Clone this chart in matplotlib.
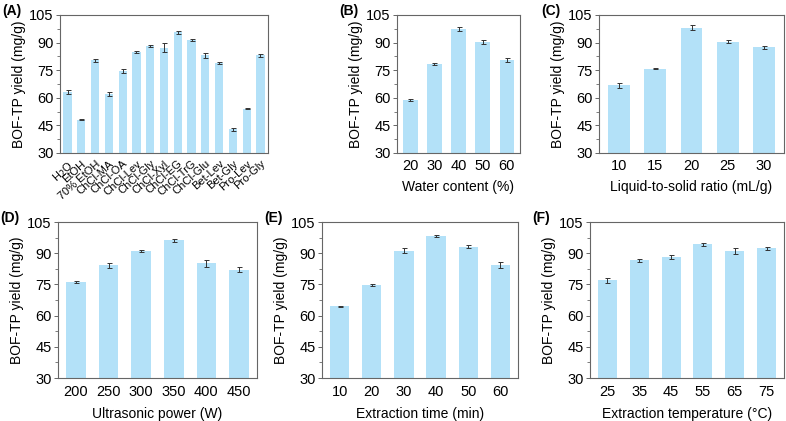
import matplotlib.pyplot as plt
from matplotlib.ticker import MultipleLocator

plt.rcParams['font.family'] = ['Liberation Sans', 'DejaVu Sans']

# (A) solvents
solvents = ["H$_2$O", "EtOH", "70% EtOH", "ChCl-MA", "ChCl-OA", "ChCl-Lev", "ChCl-Gly",
            "ChCl-Xyl", "ChCl-EG", "ChCl-TrG", "ChCl-Glu", "Bet-Lev", "Bet-Gly",
            "Pro-Lev", "Pro-Gly"]
solv_y = [63.0, 48.2, 80.4, 62.2, 74.6, 85.0, 88.2, 87.3, 95.5, 91.6, 83.1, 79.1, 42.9, 54.1, 83.1]
solv_e = [1.2, 0.5, 0.8, 1.0, 1.0, 0.6, 0.5, 2.3, 0.8, 0.5, 1.3, 0.5, 0.9, 0.4, 0.8]

# (B) water content
water = ["20", "30", "40", "50", "60"]
water_y = [58.9, 78.5, 97.5, 90.4, 80.4]
water_e = [0.4, 0.6, 1.0, 1.0, 1.2]

# (C) liquid-to-solid ratio
ratio = ["10", "15", "20", "25", "30"]
ratio_y = [66.7, 75.8, 98.2, 90.5, 87.4]
ratio_e = [1.5, 0.3, 1.2, 0.7, 0.7]

# (D) ultrasonic power
power = ["200", "250", "300", "350", "400", "450"]
power_y = [76.3, 84.1, 91.0, 96.2, 85.1, 82.0]
power_e = [0.5, 1.3, 0.6, 0.6, 1.6, 1.2]

# (E) extraction time
etime = ["10", "20", "30", "40", "50", "60"]
etime_y = [64.4, 74.7, 91.2, 98.3, 93.1, 84.3]
etime_e = [0.4, 0.6, 1.1, 0.6, 0.7, 1.5]

# (F) extraction temperature
temp = ["25", "35", "45", "55", "65", "75"]
temp_y = [76.9, 86.7, 88.1, 94.2, 91.0, 92.3]
temp_e = [1.4, 0.7, 0.9, 0.5, 1.3, 0.8]

W, H = 786, 421
fig = plt.figure(figsize=(W / 100, H / 100), dpi=100)
fig.set_facecolor("w")

BAR = "#b3e1f8"
SPINE = "#666666"


def panel(px, labels, y, e, xlabel, tag, rot=False, pad=4):
    l, r, t, b = px
    ax = fig.add_axes([l / W, 1 - b / H, (r - l) / W, (b - t) / H])
    x = list(range(len(labels)))
    ax.bar(x, y, width=0.6, color=BAR, yerr=e, capsize=1.8,
           error_kw=dict(elinewidth=0.7, capthick=0.7, ecolor="#333333"))
    ax.set_ylim(30, 105)
    ax.set_xlim(-0.55, len(labels) - 0.45)
    ax.yaxis.set_major_locator(MultipleLocator(15))
    ax.yaxis.set_minor_locator(MultipleLocator(7.5))
    ax.set_xticks(x)
    if rot:
        ax.set_xticklabels(labels, rotation=42, ha="right", rotation_mode="anchor", fontsize=8)
    else:
        ax.set_xticklabels(labels, fontsize=10.5)
    ax.tick_params(axis="y", labelsize=10.5, length=3, width=0.7, color=SPINE, pad=1.5)
    ax.tick_params(axis="y", which="minor", length=2, width=0.6, color=SPINE)
    ax.tick_params(axis="x", length=0, pad=pad)
    for s in ax.spines.values():
        s.set_color(SPINE)
        s.set_linewidth(0.8)
    ax.set_ylabel("BOF-TP yield (mg/g)", fontsize=10, labelpad=2)
    if xlabel:
        ax.set_xlabel(xlabel, fontsize=10, labelpad=pad + 1)
    fig.text((l - 58) / W, 1 - (t - 4) / H, tag, fontsize=10, fontweight="bold", va="center")
    return ax


panel((60, 268, 15, 153), solvents, solv_y, solv_e, None, "(A)", rot=True)
panel((397, 520, 15, 153), water, water_y, water_e, "Water content (%)", "(B)")
panel((599, 784, 15, 153), ratio, ratio_y, ratio_e, "Liquid-to-solid ratio (mL/g)", "(C)")
panel((58, 257, 222, 378), power, power_y, power_e, "Ultrasonic power (W)", "(D)", pad=5)
panel((322, 518, 222, 378), etime, etime_y, etime_e, "Extraction time (min)", "(E)", pad=5)
panel((590, 784, 222, 378), temp, temp_y, temp_e, "Extraction temperature (°C)", "(F)", pad=5)

fig.savefig("out.png", dpi=100)
